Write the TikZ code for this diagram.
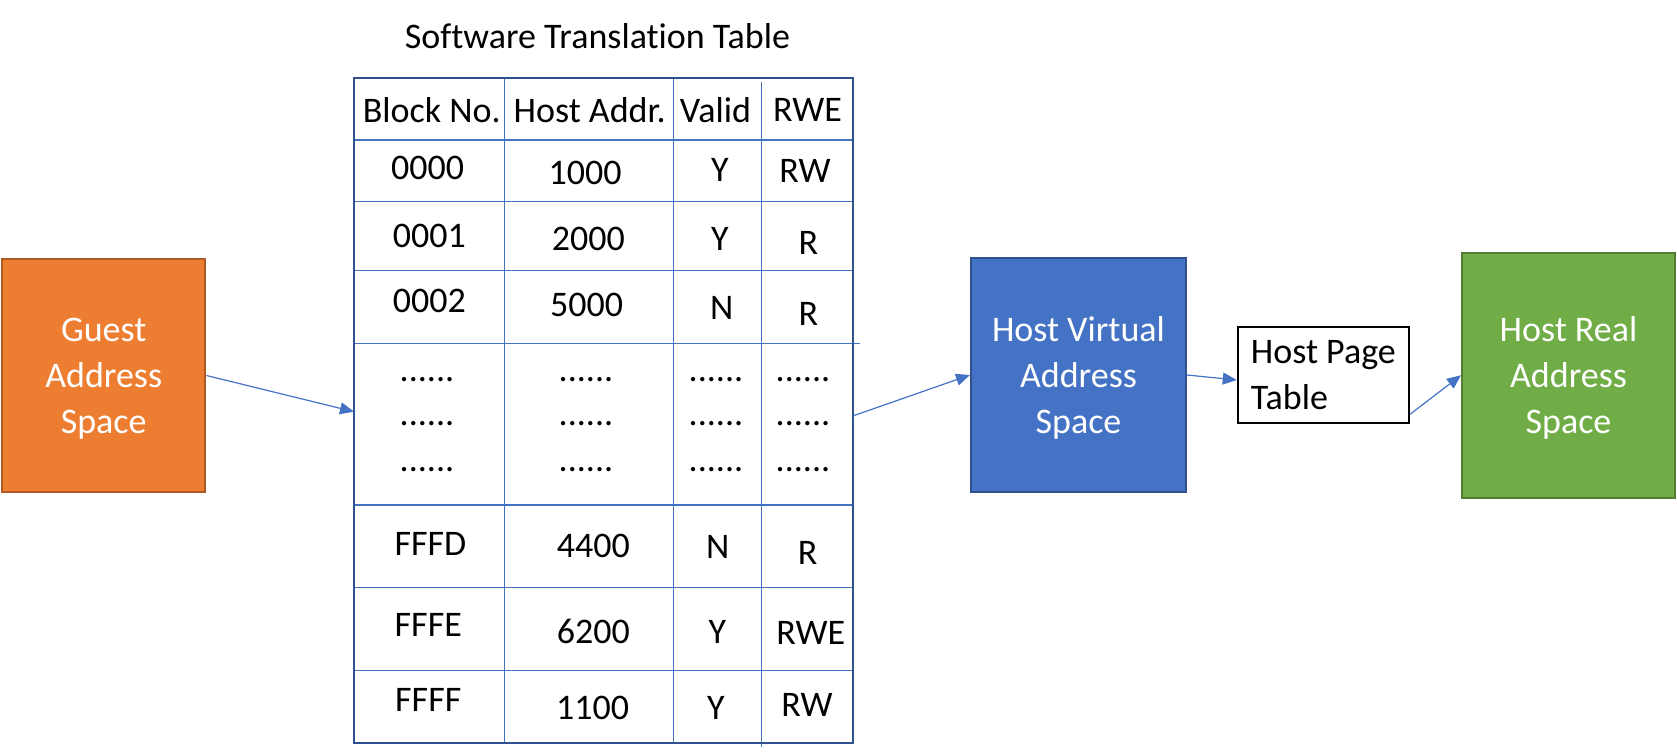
\documentclass[tikz,border=0pt]{standalone}
\usepackage{fontspec}
\setmainfont{Carlito}[Ligatures=NoCommon]
\usetikzlibrary{arrows.meta,positioning}
\definecolor{guestorange}{HTML}{ED7D31}
\definecolor{guestedge}{HTML}{AE5A21}
\definecolor{virtblue}{HTML}{4472C4}
\definecolor{virtedge}{HTML}{2F528F}
\definecolor{realgreen}{HTML}{70AD47}
\definecolor{realedge}{HTML}{507E32}

\tikzset{
  addrbox/.style={draw, line width=1pt, text=white, align=center, inner sep=0pt,
    text depth=0pt, font=\fontsize{18pt}{23pt}\selectfont},
  link/.style={-{Triangle[length=7pt,width=6pt]}, line width=0.6pt, draw=virtblue},
  grid/.style={draw=virtblue, line width=0.6pt},
  tblframe/.style={draw=virtedge, line width=1.1pt},
  cell/.style={inner sep=0pt},
}

\begin{document}
\begin{tikzpicture}[x=0.5pt, y=-0.5pt, font=\fontsize{18pt}{22.5pt}\selectfont]
    \useasboundingbox (0,0) rectangle (1677,754);

    % Software translation table
    \node[cell] (title) at (597.5,36) {Software Translation Table};
    \foreach \y in {140,201.7,270.7,505,587.3,670.7}
      \draw[grid] (354,\y) -- (852.7,\y);
    \draw[grid] (354,343.3) -- (860,343.3);
    \foreach \x in {504.3,673.3}
      \draw[grid] (\x,78) -- (\x,743.3);
    \draw[grid] (761.7,81.7) -- (761.7,746.7);
    \draw[tblframe] (354,78) rectangle (852.7,743.3);

    % header
    \node[cell] (hblk) at (431.7,110) {Block No.};
    \node[cell] (haddr) at (589.7,110) {Host Addr.};
    \node[cell] (hvalid) at (715.5,110) {Valid};
    \node[cell] (hrwe) at (807.5,110) {RWE};

    % first entries
    \node[cell] (blk1) at (427.5,168) {0000};
    \node[cell] (addr1) at (585,172.7) {1000};
    \node[cell] (valid1) at (720,170) {Y};
    \node[cell] (rwe1) at (805,171) {RW};

    \node[cell] (blk2) at (429.3,236) {0001};
    \node[cell] (addr2) at (588.3,239) {2000};
    \node[cell] (valid2) at (720,239) {Y};
    \node[cell] (rwe2) at (808.3,242.7) {R};

    \node[cell] (blk3) at (429.3,301) {0002};
    \node[cell] (addr3) at (586.7,305) {5000};
    \node[cell] (valid3) at (721.7,308) {N};
    \node[cell] (rwe3) at (808.3,314) {R};

    % skipped entries
    \foreach \y [count=\r] in {379.3,424,469.3} {
      \node[cell] (dotblk\r) at (427,\y) {......};
      \node[cell] (dotaddr\r) at (586,\y) {......};
      \node[cell] (dotvalid\r) at (716,\y) {......};
      \node[cell] (dotrwe\r) at (803,\y) {......};
    }

    % last entries
    \node[cell] (blk4) at (430.5,543.8) {FFFD};
    \node[cell] (addr4) at (593.3,546) {4400};
    \node[cell] (valid4) at (717.8,547) {N};
    \node[cell] (rwe4) at (807.7,553) {R};

    \node[cell] (blk5) at (428.3,625.3) {FFFE};
    \node[cell] (addr5) at (593.3,631.7) {6200};
    \node[cell] (valid5) at (717.5,632) {Y};
    \node[cell] (rwe5) at (810.8,633) {RWE};

    \node[cell] (blk6) at (428.3,700) {FFFF};
    \node[cell] (addr6) at (592.7,708.3) {1100};
    \node[cell] (valid6) at (715.8,708) {Y};
    \node[cell] (rwe6) at (807,705) {RW};

    \coordinate (tblin) at (354,411.7);
    \coordinate (tblout) at (852.7,416);

    % address spaces
    \node[addrbox, fill=guestorange, draw=guestedge, minimum width=101.75pt, minimum height=116.5pt]
      (guest) at (103.7,375.5) {Guest\\Address\\Space};
    \node[addrbox, fill=virtblue, draw=virtedge, minimum width=107.5pt, minimum height=117pt]
      (hostvirt) at (1078.5,375) {Host Virtual\\Address\\Space};
    \node[draw, line width=1pt, fill=white, align=left, inner sep=0pt, text depth=-3.5pt,
      font=\fontsize{18pt}{23.3pt}\selectfont, minimum width=85.65pt, minimum height=47.7pt]
      (pagetbl) at (1323.4,375) {Host Page\\Table};
    \node[addrbox, fill=realgreen, draw=realedge, minimum width=106.5pt, minimum height=122.25pt]
      (hostreal) at (1568.5,375.25) {Host Real\\Address\\Space};

    % connectors
    \draw[link] (guest.east) -- (tblin);
    \draw[link] (tblout) -- (hostvirt.west);
    \draw[link] (hostvirt.east) -- ([yshift=-2.5pt]pagetbl.west);
    \draw[link] ([yshift=4.7pt]pagetbl.south east) -- (hostreal.west);
\end{tikzpicture}
\end{document}
